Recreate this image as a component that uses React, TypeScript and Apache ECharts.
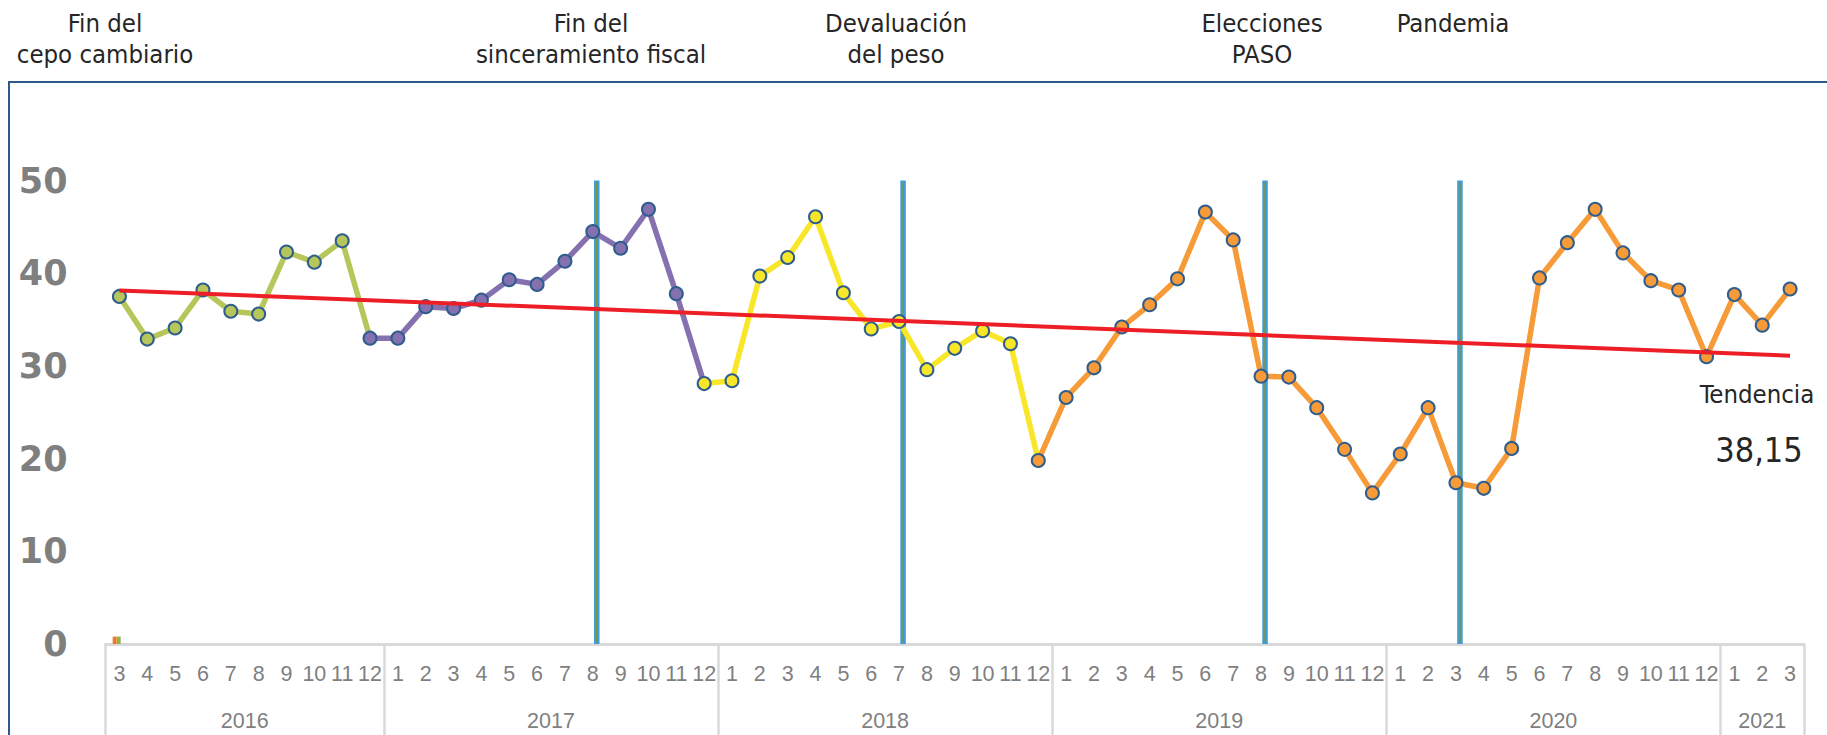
import React, { useEffect, useRef } from "react";
import * as echarts from "echarts";

// Category labels (month level and year level)
const months = [
  "3", "4", "5", "6", "7", "8", "9", "10", "11", "12",
  "1", "2", "3", "4", "5", "6", "7", "8", "9", "10", "11", "12",
  "1", "2", "3", "4", "5", "6", "7", "8", "9", "10", "11", "12",
  "1", "2", "3", "4", "5", "6", "7", "8", "9", "10", "11", "12",
  "1", "2", "3", "4", "5", "6", "7", "8", "9", "10", "11", "12",
  "1", "2", "3",
];
const years = [
  "2016", "2016", "2016", "2016", "2016", "2016", "2016", "2016", "2016", "2016",
  "2017", "2017", "2017", "2017", "2017", "2017", "2017", "2017", "2017", "2017", "2017", "2017",
  "2018", "2018", "2018", "2018", "2018", "2018", "2018", "2018", "2018", "2018", "2018", "2018",
  "2019", "2019", "2019", "2019", "2019", "2019", "2019", "2019", "2019", "2019", "2019", "2019",
  "2020", "2020", "2020", "2020", "2020", "2020", "2020", "2020", "2020", "2020", "2020", "2020",
  "2021", "2021", "2021",
];

// Series values, one array per colour period
const greenValues = [37.5, 32.9, 34.1, 38.2, 35.9, 35.6, 42.3, 41.2, 43.5];
const purpleValues = [33.0, 33.0, 36.4, 36.2, 37.1, 39.3, 38.8, 41.3, 44.5, 42.7, 46.9, 37.8];
const yellowValues = [28.1, 28.4, 39.7, 41.7, 46.1, 37.9, 34.0, 34.8, 29.6, 31.9, 33.8, 32.4];
const orangeValues = [
  19.8, 26.6, 29.8, 34.2, 36.6, 39.4, 46.6, 43.6, 28.9, 28.8, 25.5, 21.0,
  16.3, 20.5, 25.5, 17.4, 16.8, 21.1, 39.5, 43.3, 46.9, 42.2, 39.2, 38.2,
  31.0, 37.7, 34.4, 38.3,
];

// Trend line end points (first and last month)
const trendStart = 38.15;
const trendEnd = 31.1;

// Event markers (year, month) drawn as thin columns
const eventDates = [
  ["2017", "8"],
  ["2018", "7"],
  ["2019", "8"],
  ["2020", "3"],
];
const eventValue = 50;
// tiny columns at the first month
const smallOrange = [0.8];
const smallGreen = [0.8];

const annotations = [
  { text: "Fin del\ncepo cambiario", x: 105, y: 38 },
  { text: "Fin del\nsinceramiento fiscal", x: 591, y: 38 },
  { text: "Devaluación\ndel peso", x: 896, y: 38 },
  { text: "Elecciones\nPASO", x: 1262, y: 38 },
  { text: "Pandemia", x: 1453, y: 23 },
];

const COLORS = ["#B6C65B", "#8571AF", "#F8E629", "#F79B38"];
const MARKER_BORDER = "#2E5D8E";
const TEXT_FONT = '"DejaVu Sans Condensed", "DejaVu Sans", sans-serif';
const AXIS_FONT = '"Liberation Sans Narrow", "Liberation Sans", sans-serif';

export default function App() {
  const ref = useRef<HTMLDivElement>(null);

  useEffect(() => {
    if (!ref.current) return;
    const chart = echarts.init(ref.current, undefined, { renderer: "svg" });

    const groups = [greenValues, purpleValues, yellowValues, orangeValues];
    const allValues: number[] = ([] as number[]).concat(...groups);
    const n = allValues.length;
    const starts: number[] = [];
    let acc = 0;
    groups.forEach((g) => {
      starts.push(acc);
      acc += g.length;
    });

    const lineSeries = groups.map((g, gi) => {
      const s = starts[gi];
      const e = s + g.length; // next group's first point (line continues to it)
      const data = allValues.map((v, i) => {
        if (i >= s && i < e) return v;
        if (i === e) return { value: v, symbol: "none" };
        return null;
      });
      return {
        type: "line",
        data,
        symbol: "circle",
        symbolSize: 13,
        showAllSymbol: true,
        connectNulls: false,
        lineStyle: { color: COLORS[gi], width: 5.5 },
        itemStyle: { color: COLORS[gi], borderColor: MARKER_BORDER, borderWidth: 2 },
        z: 3,
      };
    });

    const eventIdx = eventDates.map(([y, m]) =>
      months.findIndex((mm, i) => mm === m && years[i] === y)
    );
    const eventData = months.map((_, i) => (eventIdx.includes(i) ? eventValue : null));
    const smallOrangeData = months.map((_, i) => (i < smallOrange.length ? smallOrange[i] : null));
    const smallGreenData = months.map((_, i) => (i < smallGreen.length ? smallGreen[i] : null));

    const trendData = allValues.map((_, i) =>
      i === 0 ? trendStart : i === n - 1 ? trendEnd : null
    );

    // year label positions: middle of each year group
    const yearFirst: Record<string, number> = {};
    const yearCount: Record<string, number> = {};
    years.forEach((y, i) => {
      if (yearFirst[y] === undefined) yearFirst[y] = i;
      yearCount[y] = (yearCount[y] || 0) + 1;
    });
    const yearLabelIdx = (y: string) => yearFirst[y] + Math.floor((yearCount[y] - 1) / 2);
    const yearShift = (y: string) => (yearCount[y] - 1) % 2 === 1;

    chart.setOption({
      animation: false,
      backgroundColor: "#ffffff",
      grid: { left: 105.5, right: 23, top: 180.6, bottom: 91 },
      xAxis: [
        {
          type: "category",
          data: months,
          boundaryGap: true,
          axisLine: { show: true, lineStyle: { color: "#D9D9D9", width: 3 } },
          axisTick: { show: false },
          axisLabel: {
            interval: 0,
            margin: 19,
            fontFamily: AXIS_FONT,
            fontSize: 21.5,
            color: "#7F7F7F",
          },
          splitLine: { show: false },
        },
        {
          type: "category",
          data: years,
          position: "bottom",
          boundaryGap: true,
          axisLine: { show: false },
          axisTick: {
            show: true,
            alignWithLabel: false,
            length: 92,
            interval: (i: number) => i === 0 || months[i] === "1",
            lineStyle: { color: "#D9D9D9", width: 2.5 },
          },
          axisLabel: {
            interval: (i: number, v: string) => i === yearLabelIdx(v),
            margin: 66,
            fontFamily: AXIS_FONT,
            fontSize: 21.5,
            color: "#7F7F7F",
            formatter: (v: string) => (yearShift(v) ? "{s|" + v + "}" : "{n|" + v + "}"),
            rich: {
              s: { padding: [0, 0, 0, 27.8], fontFamily: AXIS_FONT, fontSize: 21.5, color: "#7F7F7F" },
              n: { fontFamily: AXIS_FONT, fontSize: 21.5, color: "#7F7F7F" },
            },
          },
          splitLine: { show: false },
        },
      ],
      yAxis: {
        type: "value",
        min: 0,
        max: 50,
        interval: 10,
        axisLine: { show: false },
        axisTick: { show: false },
        splitLine: { show: false },
        axisLabel: {
          margin: 38,
          fontFamily: '"DejaVu Sans", sans-serif',
          fontWeight: "bold",
          fontSize: 35,
          color: "#7F7F7F",
        },
      },
      series: [
        {
          type: "bar",
          data: smallOrangeData,
          barWidth: 4,
          barGap: "0%",
          itemStyle: { color: "#F4782A" },
          z: 1,
        },
        {
          type: "bar",
          data: smallGreenData,
          barWidth: 4,
          barGap: "0%",
          itemStyle: { color: "#9BAF48" },
          z: 1,
        },
        {
          type: "bar",
          data: eventData,
          barWidth: 5.5,
          barGap: "0%",
          itemStyle: { color: "#7F9440", borderColor: "#3E9DD8", borderWidth: 2 },
          z: 1,
        },
        ...lineSeries,
        {
          type: "line",
          data: trendData,
          connectNulls: true,
          showSymbol: false,
          symbol: "none",
          lineStyle: { color: "#EE1E26", width: 4 },
          z: 5,
        },
      ],
      graphic: [
        {
          type: "rect",
          silent: true,
          z: -1,
          shape: { x: 9, y: 82, width: 1850, height: 700 },
          style: { fill: "none", stroke: "#2C5A88", lineWidth: 2 },
        },
        ...annotations.map((a) => ({
          type: "text",
          x: a.x,
          y: a.y,
          silent: true,
          style: {
            text: a.text,
            fill: "#262626",
            fontFamily: TEXT_FONT,
            fontSize: 25.5,
            lineHeight: 31,
            align: "center",
            verticalAlign: "middle",
          },
        })),
        {
          type: "text",
          x: 1757,
          y: 394,
          silent: true,
          style: {
            text: "Tendencia",
            fill: "#262626",
            fontFamily: TEXT_FONT,
            fontSize: 25.5,
            align: "center",
            verticalAlign: "middle",
          },
        },
        {
          type: "text",
          x: 1759,
          y: 450,
          silent: true,
          style: {
            text: "38,15",
            fill: "#262626",
            fontFamily: TEXT_FONT,
            fontSize: 34,
            align: "center",
            verticalAlign: "middle",
          },
        },
      ],
    });

    return () => chart.dispose();
  }, []);

  return (
    <div
      ref={ref}
      style={{ position: "absolute", left: 0, top: 0, width: 1827, height: 735, background: "#fff" }}
    />
  );
}
